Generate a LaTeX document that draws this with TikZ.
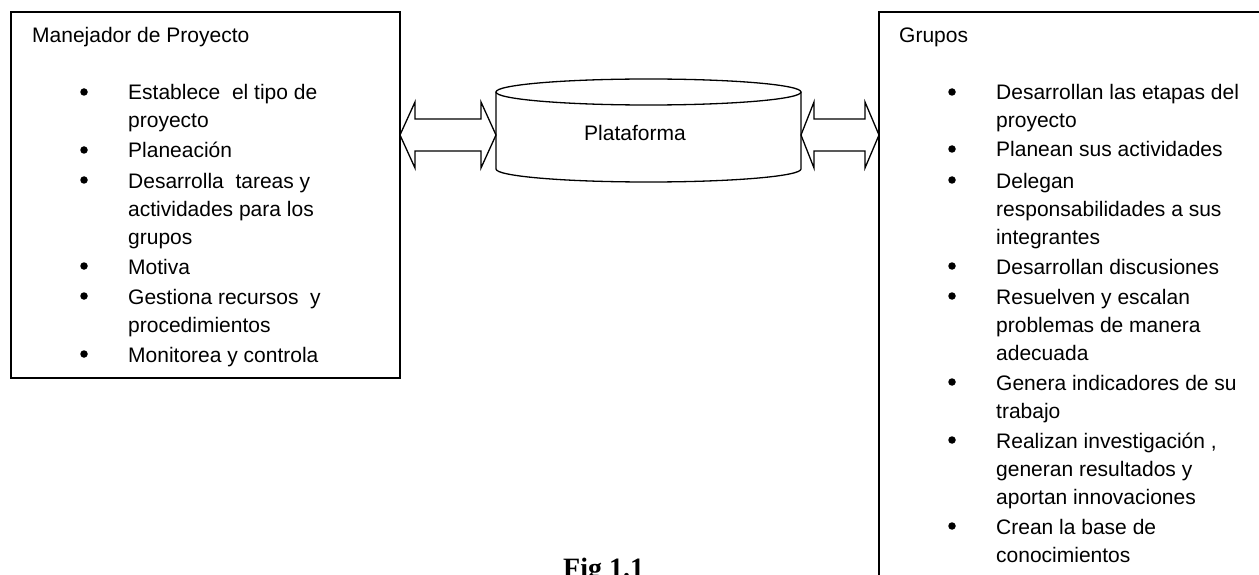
\documentclass[tikz,border=0pt]{standalone}
\usepackage{fontspec}
\setmainfont{Liberation Sans}
\newfontfamily\figfont{Liberation Serif}
\usetikzlibrary{calc}
\begin{document}
\begin{tikzpicture}[x=1pt,y=-1pt,
  box/.style={draw, line width=1.3pt, inner sep=0, outer sep=0, anchor=north west},
  txt/.style={font=\fontsize{21}{28}\selectfont, inner sep=0, anchor=base west, align=left},
  dot/.style={circle, fill, inner sep=0, minimum size=7.5pt},
  blockarrow/.style={draw, line width=1.3pt, fill=white, line join=miter},
  cylline/.style={line width=1.3pt},
]
\useasboundingbox (0,0) rectangle (1259,575);
\clip (0,0) rectangle (1259,575);
% boxes
\node[box, minimum width=389pt, minimum height=366pt] (mgr) at (11,12) {};
\node[box, minimum width=500pt, minimum height=700pt] (grp) at (879,12) {};
% platform cylinder
\node[inner sep=0, outer sep=0, minimum width=305pt, minimum height=77pt, anchor=north west] (cyl) at (496,92) {};
\draw[cylline] (cyl.north west) -- (cyl.south west)
  arc[start angle=180, end angle=0, x radius=152.5, y radius=13] -- (cyl.north east);
\draw[cylline] (cyl.north) ellipse [x radius=152.5, y radius=13];
\node[txt] (plat) at (584,141) {Plataforma};
% block arrows
\coordinate (LA) at (mgr.east |- 0,135);
\coordinate (LB) at (cyl.west |- 0,135);
\coordinate (RA) at (cyl.east |- 0,135);
\coordinate (RB) at (grp.west |- 0,135);
\draw[blockarrow] (LA) -- ++(15,-33) -- ++(0,17) -- ($(LB)+(-15,-16)$) -- ++(0,-17) -- (LB)
  -- ++(-15,33) -- ++(0,-17) -- ($(LA)+(15,16)$) -- ++(0,17) -- cycle;
\draw[blockarrow] (RA) -- ++(13,-33) -- ++(0,17) -- ($(RB)+(-14,-16)$) -- ++(0,-17) -- (RB)
  -- ++(-14,33) -- ++(0,-17) -- ($(RA)+(13,16)$) -- ++(0,17) -- cycle;
% titles
\node[txt] (mgrt) at (32,43) {Manejador de Proyecto};
\node[txt] (grpt) at (899,43) {Grupos};
% left list (node placed at the baseline of its last line)
\node[txt] (m1) at (128,128) {Establece\ \ el tipo de\\proyecto};
\node[txt] (m2) at (128,158) {Planeación};
\node[txt] (m3) at (128,244) {Desarrolla\ \ tareas y\\actividades para los\\grupos};
\node[txt] (m4) at (128,274) {Motiva};
\node[txt] (m5) at (128,332) {Gestiona recursos\ \ y\\procedimientos};
\node[txt] (m6) at (128,362) {Monitorea y controla};
\foreach \y [count=\i] in {100,158,188,274,304,362}
  \node[dot] (md\i) at (84,\y-8) {};
% right list
\node[txt] (g1) at (996,128) {Desarrollan las etapas del\\proyecto};
\node[txt] (g2) at (996,157) {Planean sus actividades};
\node[txt] (g3) at (996,244) {Delegan\\responsabilidades a sus\\integrantes};
\node[txt] (g4) at (996,274) {Desarrollan discusiones};
\node[txt] (g5) at (996,360) {Resuelven y escalan\\problemas de manera\\adecuada};
\node[txt] (g6) at (996,418) {Genera indicadores de su\\trabajo};
\node[txt] (g7) at (996,504) {Realizan investigación ,\\generan resultados y\\aportan innovaciones};
\node[txt] (g8) at (996,562) {Crean la base de\\conocimientos};
\foreach \y [count=\i] in {100,157,188,274,304,390,448,534}
  \node[dot] (gd\i) at (952,\y-8) {};
% caption
\node[inner sep=0, anchor=base west, font=\figfont\bfseries\fontsize{28}{32}\selectfont] (fig) at (563,577) {Fig 1.1};
\end{tikzpicture}
\end{document}
